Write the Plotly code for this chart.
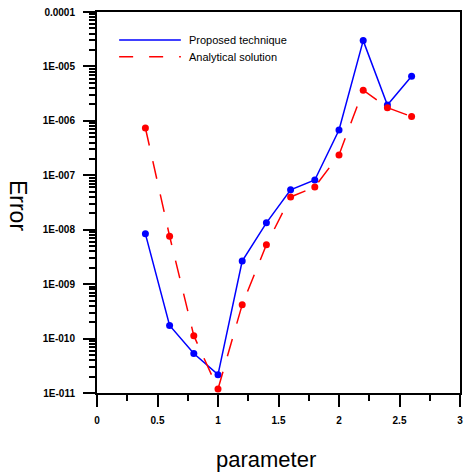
import plotly.graph_objects as go

# ---- data ----
parameter = [0.4, 0.6, 0.8, 1.0, 1.2, 1.4, 1.6, 1.8, 2.0, 2.2, 2.4, 2.6]
proposed = [8.4e-9, 1.74e-10, 5.3e-11, 2.17e-11, 2.65e-9, 1.34e-8,
            5.4e-8, 8.2e-8, 6.8e-7, 2.98e-5, 1.96e-6, 6.6e-6]
analytical = [7.4e-7, 7.6e-9, 1.13e-10, 1.18e-11, 4.2e-10, 5.3e-9,
              4.0e-8, 6.1e-8, 2.37e-7, 3.65e-6, 1.75e-6, 1.2e-6]

y_tickvals = [1e-11, 1e-10, 1e-9, 1e-8, 1e-7, 1e-6, 1e-5, 1e-4]
y_ticktext = ["1E-011", "1E-010", "1E-009", "1E-008", "1E-007", "1E-006", "1E-005", "0.0001"]
x_tickvals = [0, 0.5, 1, 1.5, 2, 2.5, 3]
x_ticktext = ["0", "0.5", "1", "1.5", "2", "2.5", "3"]

series_names = ["Proposed technique", "Analytical solution"]
BLUE = "#0000FF"
RED = "#FF0000"
FONT = "Liberation Sans"

fig = go.Figure()
fig.add_trace(go.Scatter(
    x=parameter, y=proposed, mode="lines+markers", name=series_names[0],
    line=dict(color=BLUE, width=1.5), marker=dict(color=BLUE, size=7),
    showlegend=False))
fig.add_trace(go.Scatter(
    x=parameter, y=analytical, mode="lines+markers", name=series_names[1],
    line=dict(color=RED, width=1.5, dash="18px,16px"), marker=dict(color=RED, size=7),
    showlegend=False))

# manual legend (long line samples as in the reference)
fig.add_shape(type="line", xref="x domain", yref="y domain",
              x0=0.061, x1=0.231, y0=0.9265, y1=0.9265,
              line=dict(color=BLUE, width=1.5))
fig.add_shape(type="line", xref="x domain", yref="y domain",
              x0=0.061, x1=0.231, y0=0.8827, y1=0.8827,
              line=dict(color=RED, width=1.5, dash="14px,16px"))
fig.add_annotation(xref="x domain", yref="y domain", x=0.2486, y=0.9265,
                   text=series_names[0], showarrow=False, xanchor="left", yanchor="middle",
                   font=dict(family=FONT, size=11, color="black"))
fig.add_annotation(xref="x domain", yref="y domain", x=0.2486, y=0.8827,
                   text=series_names[1], showarrow=False, xanchor="left", yanchor="middle",
                   font=dict(family=FONT, size=11, color="black"))

# axis titles
fig.add_annotation(xref="paper", yref="paper", x=0.4645, y=-0.174,
                   text="parameter", showarrow=False, xanchor="center", yanchor="middle",
                   font=dict(family=FONT, size=22, color="black"))
fig.add_annotation(xref="paper", yref="paper", x=-0.217, y=0.493,
                   text="Error", showarrow=False, xanchor="center", yanchor="middle",
                   textangle=90, font=dict(family=FONT, size=23, color="black"))

fig.update_xaxes(
    range=[0, 3], tickvals=x_tickvals, ticktext=x_ticktext,
    ticks="outside", ticklen=12, tickwidth=2, tickcolor="black",
    minor=dict(ticks="outside", ticklen=6, tickwidth=2, tickcolor="black", dtick=0.25, showgrid=False),
    showline=True, linewidth=2, linecolor="black", mirror=True,
    showgrid=False, zeroline=False, ticklabeloverflow="allow", ticklabelstandoff=5,
    tickfont=dict(family=FONT, size=10, color="black", weight="bold"))
fig.update_yaxes(
    type="log", range=[-11, -4], tickvals=y_tickvals, ticktext=y_ticktext,
    ticks="outside", ticklen=12, tickwidth=2, tickcolor="black",
    minor=dict(ticks="outside", ticklen=6, tickwidth=1.5, tickcolor="black", dtick="D1", showgrid=False),
    showline=True, linewidth=2, linecolor="black", mirror=True,
    showgrid=False, zeroline=False, ticklabelstandoff=6,
    tickfont=dict(family=FONT, size=10, color="black", weight="bold"))

fig.update_layout(
    width=464, height=472,
    margin=dict(l=97, r=1, t=12, b=79),
    paper_bgcolor="white", plot_bgcolor="white",
    showlegend=False)

fig.write_html("out.html", config={"displayModeBar": False},
               post_script="document.body.style.margin='0';document.body.style.overflow='hidden';")
